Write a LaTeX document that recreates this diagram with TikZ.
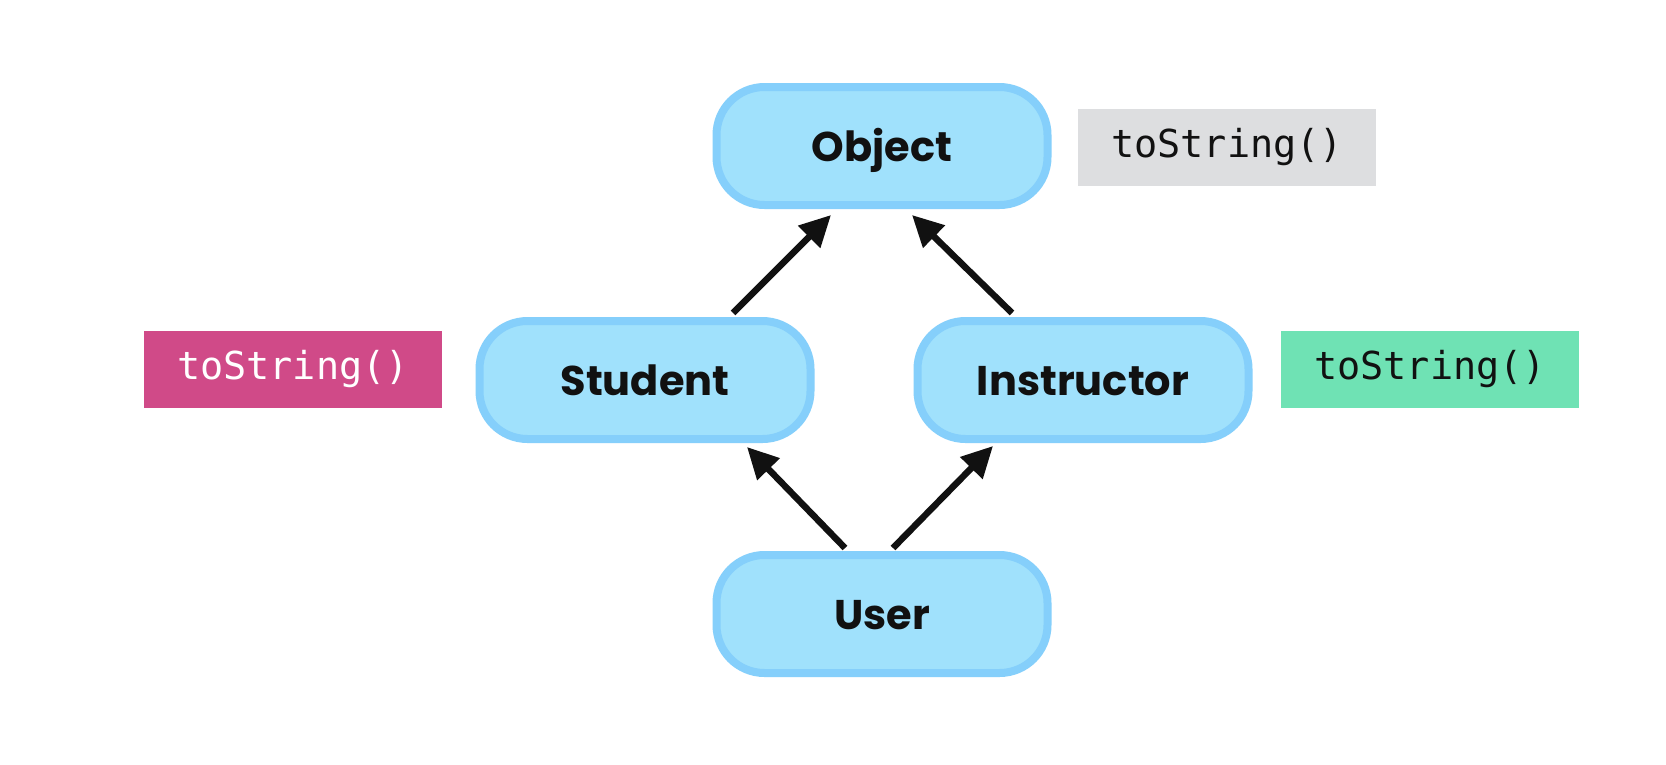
\documentclass[tikz,border=0pt]{standalone}
\usepackage{fontspec}
\setmainfont{Poppins}
\newfontfamily\codefont{DejaVu Sans Mono}
\usetikzlibrary{arrows.meta}
\definecolor{boxfill}{HTML}{A0E1FC}
\definecolor{boxline}{HTML}{85CFFB}
\definecolor{tagGray}{HTML}{DDDEE0}
\definecolor{tagPink}{HTML}{D04A88}
\definecolor{tagGreen}{HTML}{6FE2B4}
\definecolor{ink}{HTML}{111111}
\begin{document}
\begin{tikzpicture}[x=1pt,y=-1pt,
  cls/.style={draw=boxline, fill=boxfill, line width=8pt, rounded corners=48pt,
    minimum width=331pt, minimum height=118pt, inner sep=0pt,
    text height=41pt, text depth=10pt,
    font=\fontsize{41.5}{48}\selectfont\bfseries, text=ink},
  tag/.style={minimum width=298pt, minimum height=77pt, inner sep=0pt,
    font=\codefont\fontsize{38.5}{44}\selectfont},
  arr/.style={line width=6.5pt, -{Triangle[length=31pt,width=30pt]}, ink}]
\useasboundingbox (0,0) rectangle (1666,764);
\fill[white] (0,0) rectangle (1666,764);
\node[cls] (object) at (882,146) {Object};
\node[cls] (student) at (645,380) {Student};
\node[cls] (instructor) at (1083,380) {Instructor};
\node[cls] (user) at (882,614) {User};
\node[tag, fill=tagGray, text=ink] (tobj) at (1227,147) {toString()};
\node[tag, fill=tagPink, text=white] (tstu) at (293,369) {toString()};
\node[tag, fill=tagGreen, text=ink] (tins) at (1430,369) {toString()};
\draw[arr] ([xshift=88pt,yshift=4pt]student.north) -- ([xshift=-51pt,yshift=-6pt]object.south);
\draw[arr] ([xshift=-71pt,yshift=4pt]instructor.north) -- ([xshift=30pt,yshift=-6pt]object.south);
\draw[arr] ([xshift=-37pt,yshift=3pt]user.north) -- ([xshift=102pt,yshift=-4pt]student.south);
\draw[arr] ([xshift=11pt,yshift=3pt]user.north) -- ([xshift=-90pt,yshift=-3pt]instructor.south);
\end{tikzpicture}
\end{document}
